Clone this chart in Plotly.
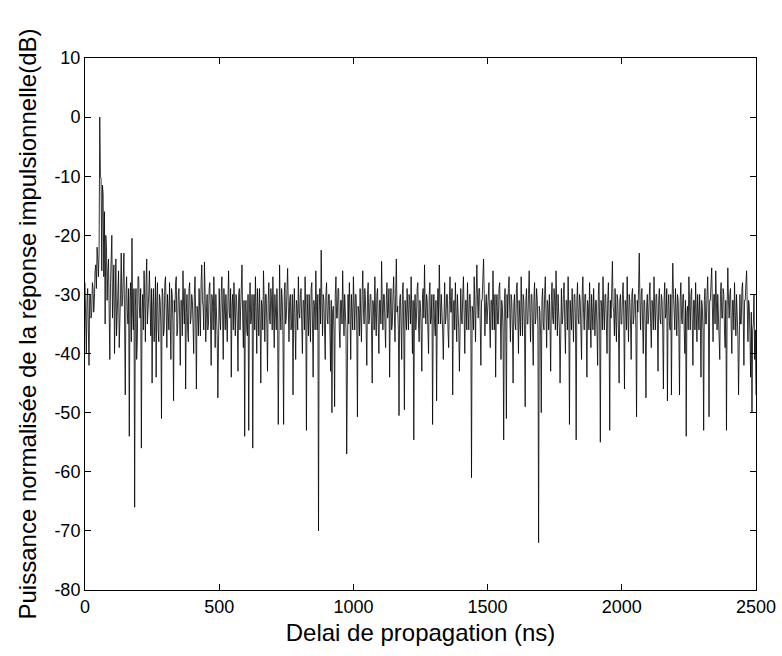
import plotly.graph_objects as go

# Normalised power of the impulse response (dB).
# One list per 100 ns of delay, samples every 2.5 ns.
power_db_chunks = [
    # 0-97.5 ns
    [-28, -33, -40, -31, -29, -36, -42, -30, -30, -34, -33, -28, -29, -33, -31, -26, -25, -29, -22, -24,
     -27, -23, 0, -10, -10.5, -26, -11.5, -13, -27, -16, -35, -20, -22, -31, -26, -24, -33, -41, -28, -23],
    # 100-197.5
    [-20, -34, -30, -25, -40, -29, -24, -37, -33, -28, -26, -39, -36, -30, -23, -32, -31, -27, -23, -35,
     -47, -30, -27, -33, -35, -29, -54, -31, -28, -38, -20.5, -33, -36, -29, -66, -32, -29, -41, -38, -27],
    # 200-297.5
    [-27, -32, -34, -29, -56, -33, -30, -36, -26, -31, -38, -28, -24, -35, -33, -30, -26, -34, -37, -29,
     -45, -32, -29, -38, -35, -27, -44, -31, -28, -36, -38, -30, -31, -35, -51, -29, -30, -37, -36, -28],
    # 300-397.5
    [-27, -33, -39, -30, -32, -36, -28, -34, -41, -29, -30, -35, -48, -31, -33, -28, -27, -37, -36, -30,
     -29, -34, -42, -31, -31, -37, -26, -32, -35, -29, -46, -33, -30, -36, -38, -29, -28, -35, -34, -30],
    # 400-497.5
    [-31, -35, -40, -30, -27, -34, -46, -32, -33, -37, -29, -33, -37, -28, -25, -31, -32, -36, -24.5, -30,
     -38, -33, -30, -36, -35, -29, -28, -34, -42, -30, -31, -36, -27, -32, -39, -30, -33, -37, -47.5, -31],
    # 500-597.5
    [-29, -34, -36, -30, -27, -33, -41, -29, -32, -36, -30, -35, -38, -31, -26, -33, -34, -29, -44, -32,
     -30, -36, -28, -33, -37, -30, -31, -35, -43, -30, -29, -36, -33, -28, -25, -34, -39, -31, -54, -32],
    # 600-697.5
    [-31, -36, -37, -30, -53, -33, -28, -35, -34, -30, -56, -32, -30, -36, -27, -33, -40, -29, -33, -37,
     -29, -34, -45, -31, -32, -36, -26, -31, -38, -30, -30, -35, -43, -31, -28, -34, -35, -29, -31, -36],
    # 700-797.5
    [-27, -33, -39, -30, -33, -36, -29, -34, -52, -31, -25, -33, -36, -29, -31, -37, -52, -30, -28, -35,
     -34, -29, -25.6, -32, -38, -31, -30, -36, -35, -30, -47, -33, -29, -35, -41, -31, -32, -36, -27, -33],
    # 800-897.5
    [-34, -30, -29, -35, -40, -31, -31, -36, -27, -33, -53, -30, -33, -37, -30, -34, -38, -29, -28, -35,
     -44, -31, -32, -36, -26, -32, -36, -30, -70, -33, -29, -35, -22.5, -31, -37, -30, -31, -36, -41, -30],
    # 900-997.5
    [-28, -34, -35, -30, -30, -36, -43, -31, -50, -33, -32, -36, -49, -30, -27, -34, -34, -29, -29, -36,
     -39, -31, -31, -35, -26, -32, -37, -30, -33, -36, -57, -31, -30, -35, -28, -33, -41, -30, -32, -36],
    # 1000-1097.5
    [-27, -33, -36, -30, -30, -35, -50.7, -32, -33, -37, -29, -34, -38, -30, -26, -33, -35, -29, -31, -36,
     -42, -30, -28, -35, -34, -30, -30, -36, -45, -31, -32, -36, -27, -33, -37, -30, -29, -35, -40, -31],
    # 1100-1197.5
    [-31, -35, -24.4, -31, -36, -30, -30, -35, -39, -31, -28, -34, -33, -29, -44, -32, -29, -36, -35, -30,
     -27, -33, -38, -30, -24, -33, -32, -36, -50.5, -31, -30, -35, -41, -30, -28, -36, -49.5, -31, -33, -36],
    # 1200-1297.5
    [-29, -35, -36, -30, -31, -35, -27, -33, -40, -31, -54.6, -32, -30, -36, -34, -29, -28, -35, -38, -31,
     -32, -36, -43, -30, -29, -34, -25, -32, -35, -30, -31, -36, -40, -30, -28, -35, -34, -30, -52, -33],
    # 1300-1397.5
    [-30, -35, -37, -31, -48, -33, -29, -35, -25, -31, -35, -30, -32, -36, -41, -30, -28, -35, -34, -30,
     -30, -36, -39, -31, -27, -33, -33, -29, -47, -32, -31, -36, -28, -33, -38, -30, -32, -36, -43, -31],
    # 1400-1497.5
    [-29, -34, -35, -30, -27, -33, -40, -31, -31, -36, -28, -33, -36, -30, -30, -35, -61, -32, -33, -36,
     -27, -32, -38, -30, -25, -31, -34, -29, -29, -35, -42, -31, -31, -27, -24, -30, -37, -32, -30, -35],
    # 1500-1597.5
    [-33, -29, -28, -35, -39, -31, -31, -36, -26, -32, -36, -30, -44, -32, -30, -35, -35, -29, -28, -34,
     -41, -31, -32, -36, -54.6, -31, -29, -35, -51, -30, -34, -29, -27, -33, -38, -30, -31, -36, -45, -32],
    # 1600-1697.5
    [-30, -35, -36, -29, -28, -34, -40, -31, -33, -37, -27, -32, -37, -30, -31, -36, -49, -31, -29, -35,
     -35, -30, -26, -33, -38, -30, -30, -36, -42, -31, -28, -35, -34, -29, -31, -36, -72, -32, -33, -37],
    # 1700-1797.5
    [-50, -31, -29, -35, -36, -30, -27, -33, -39, -31, -32, -36, -30, -35, -43, -31, -28, -34, -35, -29,
     -31, -36, -26, -32, -37, -30, -33, -36, -45, -31, -29, -35, -34, -30, -28, -35, -40, -31, -31, -36],
    # 1800-1897.5
    [-27, -33, -52, -31, -33, -36, -29, -34, -38, -30, -30, -35, -54.6, -31, -28, -34, -35, -30, -31, -36,
     -41, -30, -27, -33, -36, -30, -30, -35, -44, -31, -32, -36, -28, -34, -39, -30, -33, -36, -29, -35],
    # 1900-1997.5
    [-37, -31, -31, -36, -42, -30, -28, -35, -55, -31, -32, -36, -27, -33, -36, -30, -30, -35, -40, -31,
     -28, -34, -53, -31, -34, -29, -24.4, -32, -33, -37, -29, -34, -38, -30, -31, -36, -45, -31, -30, -35],
    # 2000-2097.5
    [-35, -30, -28, -34, -46, -31, -32, -36, -27, -33, -38, -30, -31, -35, -41, -30, -29, -35, -34, -30,
     -30, -36, -50.7, -31, -33, -29, -23, -31, -36, -30, -29, -35, -40, -31, -31, -36, -47.5, -32, -30, -35],
    # 2100-2197.5
    [-34, -30, -28, -35, -39, -31, -32, -36, -27, -33, -36, -30, -30, -35, -43, -31, -29, -34, -35, -30,
     -31, -36, -46, -31, -28, -34, -33, -29, -48, -32, -30, -35, -36, -30, -47, -31, -24.7, -30, -33, -36],
    # 2200-2297.5
    [-29, -34, -37, -30, -31, -36, -47, -31, -28, -34, -35, -30, -30, -36, -40, -31, -54, -33, -32, -36,
     -27, -32, -36, -30, -29, -35, -42, -31, -31, -36, -28, -33, -38, -30, -33, -36, -30, -34, -44, -31],
    # 2300-2397.5
    [-32, -36, -53, -31, -29, -35, -35, -30, -27, -33, -50.7, -31, -31, -28, -25.5, -32, -38, -30, -30, -35,
     -26, -31, -36, -30, -33, -37, -41, -30, -28, -34, -34, -29, -30, -36, -39, -31, -53, -32, -25.5, -31],
    # 2400-2497.5
    [-34, -30, -29, -35, -40, -31, -31, -36, -28, -33, -37, -30, -33, -37, -47, -31, -30, -35, -35, -29,
     -28, -34, -42, -31, -31, -28, -26, -32, -38, -31, -32, -37, -44, -33, -50, -36, -35, -30, -41, -36],
]
power_db_end = -47          # value at 2500 ns
chunk_span_ns = 100
x_end_ns = 2500

delay_ns, power_db = [], []
for k, chunk in enumerate(power_db_chunks):
    step = chunk_span_ns / len(chunk)
    for j, v in enumerate(chunk):
        delay_ns.append(k * chunk_span_ns + j * step)
        power_db.append(v)
delay_ns.append(x_end_ns)
power_db.append(power_db_end)

x_ticks = [0, 500, 1000, 1500, 2000, 2500]
y_ticks = [10, 0, -10, -20, -30, -40, -50, -60, -70, -80]

x_title = "Delai de propagation (ns)"
y_title = "Puissance normalisée de la réponse impulsionnelle(dB)"

font_family = "Liberation Sans, Arial, sans-serif"

fig = go.Figure()
fig.add_trace(go.Scatter(
    x=delay_ns, y=power_db, mode="lines",
    line=dict(color="black", width=0.8),
    hoverinfo="x+y", showlegend=False,
))

axis_common = dict(
    showgrid=False, zeroline=False, automargin=False,
    showline=True, linecolor="black", linewidth=1, mirror="ticks",
    ticks="inside", ticklen=6, tickcolor="black", tickwidth=1,
    tickfont=dict(family=font_family, size=18, color="black"),
)

fig.update_layout(
    width=782, height=656,
    margin=dict(l=85, r=26, t=58, b=66),
    paper_bgcolor="white", plot_bgcolor="white",
    font=dict(family=font_family, color="black"),
    xaxis=dict(
        range=[0, 2500], tickvals=x_ticks, ticktext=[str(v) for v in x_ticks],
        title=dict(text=x_title, font=dict(family=font_family, size=24), standoff=8),
        **axis_common,
    ),
    yaxis=dict(
        range=[-80, 10], tickvals=y_ticks, ticktext=[str(v) for v in y_ticks],
        title=dict(text=y_title, font=dict(family=font_family, size=24), standoff=10),
        **axis_common,
    ),
)

fig.write_html("out.html")
